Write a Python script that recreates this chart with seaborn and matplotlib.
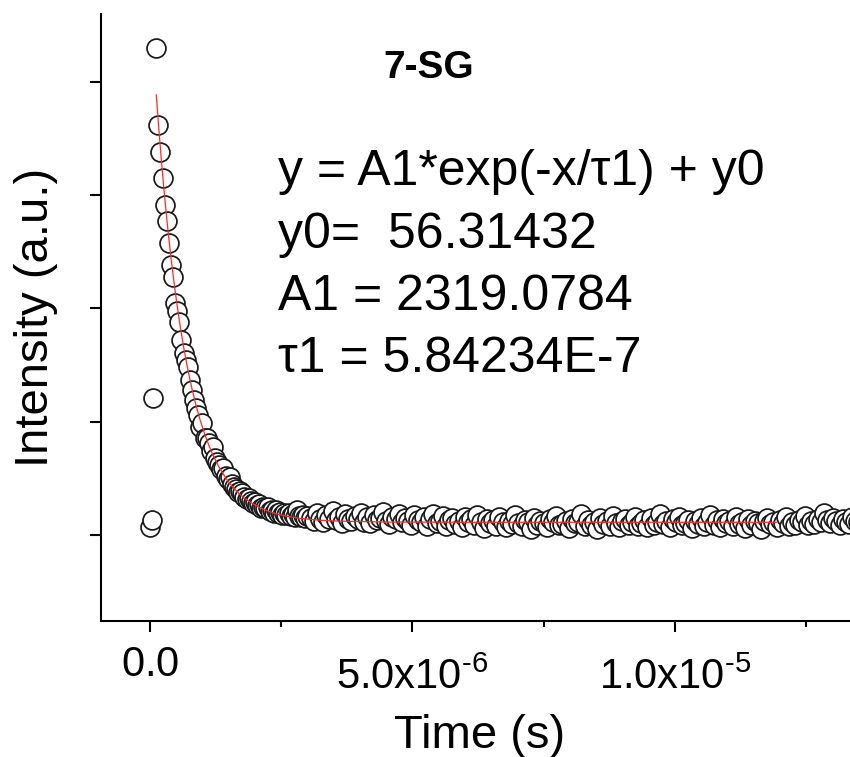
import numpy as np
import pandas as pd
import matplotlib
matplotlib.use("Agg")
import matplotlib.pyplot as plt
import seaborn as sns
from matplotlib.ticker import FixedLocator, FixedFormatter
from matplotlib.transforms import ScaledTranslation

# ---------------- data (time in microseconds, intensity in a.u.) ----------------
rise_time_us = [0.00, 0.03, 0.06]
rise_counts = [35, 66, 605]

decay_time_us = [0.12, 0.16, 0.20, 0.24, 0.28, 0.32, 0.36, 0.40, 0.44, 0.48,
                 0.52, 0.56, 0.60, 0.64, 0.68, 0.72, 0.76, 0.80, 0.84, 0.88,
                 0.92, 0.96, 1.00, 1.04, 1.08, 1.12, 1.16, 1.20, 1.24, 1.28,
                 1.32, 1.36, 1.40, 1.44, 1.48, 1.52, 1.56, 1.60, 1.64, 1.68,
                 1.72, 1.76, 1.80, 1.84, 1.88, 1.92, 1.96, 2.00, 2.04, 2.08,
                 2.12, 2.16, 2.20, 2.24, 2.28, 2.32, 2.36, 2.40, 2.44, 2.48,
                 2.52, 2.56, 2.60, 2.64, 2.68, 2.72, 2.76, 2.80, 2.84, 2.88,
                 2.92, 2.96, 3.00]
decay_counts = [2150, 1810, 1690, 1576, 1455, 1386, 1289, 1190, 1140, 1024,
                990, 940, 861, 804, 773, 740, 684, 640, 595, 561,
                530, 478, 494, 428, 430, 405, 372, 389, 340, 322,
                310, 290, 296, 262, 245, 256, 225, 212, 205, 190,
                195, 185, 168, 160, 163, 150, 140, 146, 130, 135,
                120, 125, 118, 124, 104, 112, 98, 110, 96, 101,
                90, 95, 86, 97, 84, 92, 80, 110, 85, 78,
                88, 74, 82]

tail_time_us = [3.06, 3.12, 3.18, 3.24, 3.30, 3.36, 3.42, 3.48, 3.54, 3.60, 3.66, 3.72, 3.78, 3.84, 3.90,
                3.96, 4.02, 4.08, 4.14, 4.20, 4.26, 4.32, 4.38, 4.44, 4.50, 4.56, 4.62, 4.68, 4.74, 4.80,
                4.86, 4.92, 4.98, 5.04, 5.10, 5.16, 5.22, 5.28, 5.34, 5.40, 5.46, 5.52, 5.58, 5.64, 5.70,
                5.76, 5.82, 5.88, 5.94, 6.00, 6.06, 6.12, 6.18, 6.24, 6.30, 6.36, 6.42, 6.48, 6.54, 6.60,
                6.66, 6.72, 6.78, 6.84, 6.90, 6.96, 7.02, 7.08, 7.14, 7.20, 7.26, 7.32, 7.38, 7.44, 7.50,
                7.56, 7.62, 7.68, 7.74, 7.80, 7.86, 7.92, 7.98, 8.04, 8.10, 8.16, 8.22, 8.28, 8.34, 8.40,
                8.46, 8.52, 8.58, 8.64, 8.70, 8.76, 8.82, 8.88, 8.94, 9.00, 9.06, 9.12, 9.18, 9.24, 9.30,
                9.36, 9.42, 9.48, 9.54, 9.60, 9.66, 9.72, 9.78, 9.84, 9.90, 9.96, 10.02, 10.08, 10.14, 10.20,
                10.26, 10.32, 10.38, 10.44, 10.50, 10.56, 10.62, 10.68, 10.74, 10.80, 10.86, 10.92, 10.98, 11.04, 11.10,
                11.16, 11.22, 11.28, 11.34, 11.40, 11.46, 11.52, 11.58, 11.64, 11.70, 11.76, 11.82, 11.88, 11.94, 12.00,
                12.06, 12.12, 12.18, 12.24, 12.30, 12.36, 12.42, 12.48, 12.54, 12.60, 12.66, 12.72, 12.78, 12.84, 12.90,
                12.96, 13.02, 13.08, 13.14, 13.20, 13.26, 13.32, 13.38, 13.44, 13.50]
tail_counts = [75, 63, 96, 72, 57, 86, 69, 106, 65, 79, 53, 91, 72, 60, 84,
               69, 97, 58, 77, 52, 87, 65, 74, 103, 62, 50, 80, 70, 92, 55,
               75, 63, 46, 89, 67, 57, 79, 41, 70, 94, 52, 62, 82, 38, 65,
               74, 50, 60, 34, 80, 55, 69, 45, 87, 58, 29, 72, 52, 65, 41,
               77, 57, 33, 63, 48, 89, 53, 38, 67, 58, 28, 74, 46, 60, 52,
               36, 69, 55, 82, 43, 50, 62, 31, 72, 52, 58, 91, 40, 65, 46,
               55, 26, 75, 50, 63, 41, 85, 53, 34, 60, 70, 46, 57, 79, 38,
               52, 65, 33, 74, 45, 58, 94, 50, 62, 36, 69, 55, 80, 43, 53,
               67, 29, 60, 48, 75, 38, 57, 87, 46, 65, 34, 72, 52, 60, 41,
               79, 50, 57, 31, 69, 45, 63, 53, 24, 60, 74, 48, 55, 36, 65,
               52, 77, 40, 58, 46, 67, 55, 82, 43, 62, 50, 72, 57, 99, 65,
               53, 75, 60, 46, 69, 57, 50, 79, 63, 55]

# fitted curve y = A1*exp(-x/tau1) + y0
fit_time_us = [0.12, 0.16, 0.20, 0.24, 0.28, 0.32, 0.36, 0.40, 0.48, 0.56,
               0.64, 0.72, 0.80, 0.88, 0.96, 1.04, 1.12, 1.20, 1.32, 1.44,
               1.56, 1.68, 1.80, 1.92, 2.08, 2.24, 2.40, 2.60, 2.80, 3.00,
               3.30, 3.60, 4.00, 4.50, 5.00, 6.00, 8.00, 11.94]
fit_counts = [1944, 1819, 1703, 1594, 1492, 1397, 1308, 1225, 1076, 945,
              831, 732, 646, 570, 504, 447, 397, 353, 298, 253,
              216, 187, 162, 143, 122, 106, 94, 83, 75, 70,
              64, 61, 59, 57, 57, 56, 56, 56]

x_major_ticks = [0.0, 5.0e-6, 1.0e-5]
x_major_labels = [r"$0.0$", "$5.0\\mathrm{x}10^{\u2010 6}$", "$1.0\\mathrm{x}10^{\u2010 5}$"]
x_minor_ticks = [2.5e-6, 7.5e-6, 1.25e-5]
y_ticks = [0, 500, 1000, 1500, 2000]

title_text = "7-SG"
eq_lines = ["y = A1*exp(-x/τ1) + y0",
            "y0=  56.31432",
            "A1 = 2319.0784",
            "τ1 = 5.84234E-7"]

# ---------------- style ----------------
sns.set_theme(style="ticks")
plt.rcParams["font.family"] = ["Liberation Sans", "DejaVu Sans"]
plt.rcParams["mathtext.fontset"] = "custom"
plt.rcParams["mathtext.rm"] = "Liberation Sans"
plt.rcParams["mathtext.it"] = "Liberation Sans:italic"
plt.rcParams["mathtext.bf"] = "Liberation Sans:bold"
plt.rcParams["mathtext.default"] = "regular"

W, H = 850, 757
fig = plt.figure(figsize=(W / 100, H / 100), dpi=100)
ax_l, ax_r, ax_t, ax_b = 101, 859, 14, 621
ax = fig.add_axes([ax_l / W, (H - ax_b) / H, (ax_r - ax_l) / W, (ax_b - ax_t) / H])

data = pd.DataFrame({
    "time": np.array(rise_time_us + decay_time_us + tail_time_us) * 1e-6,
    "intensity": rise_counts + decay_counts + tail_counts,
})
fit = pd.DataFrame({"time": np.array(fit_time_us) * 1e-6, "intensity": fit_counts})

sns.scatterplot(data=data, x="time", y="intensity", ax=ax, s=185, color="white",
                edgecolor="#1a1a1a", linewidth=1.25, zorder=2, legend=False)
sns.lineplot(data=fit, x="time", y="intensity", ax=ax, color="#ff2a2a", lw=0.9,
             zorder=3, sort=False, estimator=None, legend=False)

ax.set_xlim(-0.933e-6, 13.51e-6)
ax.set_ylim(-380, 2300)

for side in ["top", "right"]:
    ax.spines[side].set_visible(False)
for side in ["left", "bottom"]:
    ax.spines[side].set_linewidth(1.5)
    ax.spines[side].set_color("black")

ax.xaxis.set_major_locator(FixedLocator(x_major_ticks))
ax.xaxis.set_major_formatter(FixedFormatter(x_major_labels))
ax.xaxis.set_minor_locator(FixedLocator(x_minor_ticks))
ax.yaxis.set_major_locator(FixedLocator(y_ticks))
ax.tick_params(axis="both", which="major", direction="out", length=8, width=1.5,
               color="black", pad=9, labelsize=30, labelcolor="black")
ax.tick_params(axis="x", which="minor", direction="out", length=4.5, width=1.5, color="black")
ax.tick_params(axis="y", labelleft=False)

# Origin-style: exponent labels hang lower so the superscript top lines up with "0.0"
for tick in ax.xaxis.get_major_ticks()[1:]:
    tick.label1.set_transform(tick.label1.get_transform()
                              + ScaledTranslation(0, -0.13, fig.dpi_scale_trans))

ax.set_xlabel("Time (s)", fontsize=34, color="black")
ax.xaxis.label.set_va("baseline")
ax.xaxis.set_label_coords(0.5, (ax_b - 748) / (ax_b - ax_t))
ax.set_ylabel("Intensity (a.u.)", fontsize=34, color="black")
ax.yaxis.set_label_coords((58 - ax_l) / (ax_r - ax_l), 0.5)

fig.text(383 / W, 1 - 78 / H, title_text, fontsize=28, fontweight="bold",
         ha="left", va="baseline", color="black")
for i, line in enumerate(eq_lines):
    fig.text(278 / W, 1 - (185 + 62.5 * i) / H, line, fontsize=36,
             ha="left", va="baseline", color="black")

fig.savefig("out.png", dpi=100, facecolor="white")
